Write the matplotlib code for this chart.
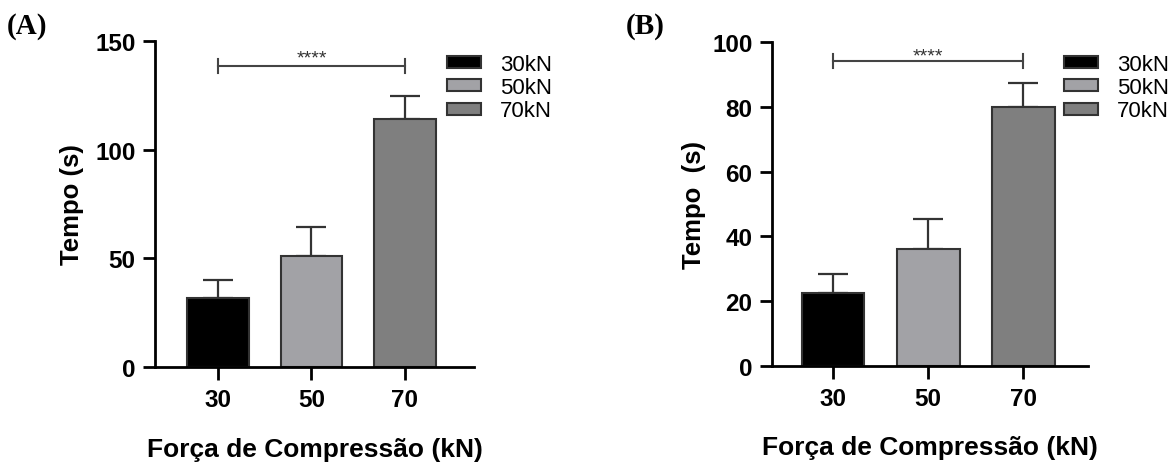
import numpy as np
import matplotlib.pyplot as plt
from matplotlib.patches import Patch

plt.rcParams['font.family'] = ['Liberation Sans', 'DejaVu Sans']

categories = ['30', '50', '70']
legend_labels = ['30kN', '50kN', '70kN']
colors = ['#000000', '#a2a2a6', '#7f7f7f']

tempo_a = [31.8, 51, 114]
err_a = [8.2, 13.4, 10.5]
tempo_b = [22.5, 36, 80]
err_b = [5.8, 9.5, 7.3]

W, H = 1171, 464
fig = plt.figure(figsize=(W / 100, H / 100), dpi=100)


def panel(box, xlim, vals, errs, ymax, yticks, bracket_y, tick_h, star_y, letter, letter_x,
          ylabel, ylabel_x, legend_xy):
    left, right, top, bottom = box
    ax = fig.add_axes([left / W, 1 - bottom / H, (right - left) / W, (bottom - top) / H])
    x = np.arange(len(categories))
    ax.bar(x, vals, width=0.66, color=colors, edgecolor='#333333', linewidth=1.5, zorder=2)
    ax.errorbar(x, vals, yerr=[[0] * len(vals), errs], fmt='none', ecolor='#333333',
                elinewidth=1.6, capsize=11, capthick=1.6, zorder=1)
    ax.set_xlim(*xlim)
    ax.set_ylim(0, ymax)
    ax.set_xticks(x)
    ax.set_xticklabels(categories)
    ax.set_yticks(yticks)
    for s in ['top', 'right']:
        ax.spines[s].set_visible(False)
    for s in ['left', 'bottom']:
        ax.spines[s].set_linewidth(2.0)
    ax.tick_params(axis='both', width=2.0, length=9, labelsize=17.5, pad=5)
    ax.tick_params(axis='x', pad=6)
    for lab in ax.get_xticklabels() + ax.get_yticklabels():
        lab.set_fontweight('bold')
    ax.set_ylabel(ylabel, fontsize=18.5, fontweight='bold')
    ax.yaxis.set_label_coords(ylabel_x, 0.5)
    ax.set_xlabel('Força de Compressão (kN)', fontsize=19, fontweight='bold')
    ax.xaxis.set_label_coords(0.5, -0.25)
    ax.xaxis.label.set_va('center')

    # significance bracket
    kw = dict(color='#444444', lw=1.5, clip_on=False)
    ax.plot([0, 2], [bracket_y, bracket_y], **kw)
    ax.plot([0, 0], [bracket_y - tick_h, bracket_y + tick_h], **kw)
    ax.plot([2, 2], [bracket_y - tick_h, bracket_y + tick_h], **kw)
    ax.text(1, star_y, '****', ha='center', va='baseline', fontsize=14, color='#333333')

    handles = [Patch(facecolor=c, edgecolor='#333333', linewidth=1.5) for c in colors]
    fig.legend(handles, legend_labels, loc='upper left',
               bbox_to_anchor=(legend_xy[0] / W, 1 - legend_xy[1] / H), frameon=False,
               fontsize=16, handlelength=1.55, handleheight=0.45, handletextpad=0.85,
               labelspacing=0.1, borderaxespad=0, borderpad=0)

    fig.text(letter_x / W, 1 - 26 / H, letter, fontsize=21, fontweight='bold',
             family='Liberation Serif', va='center', ha='left')
    return ax


panel((155, 474, 42, 368), (-0.674, 2.74), tempo_a, err_a, 150, [0, 50, 100, 150],
      138.5, 3.2, 140, '(A)', 7, 'Tempo (s)', -0.223, (447, 55))
panel((772, 1088, 43, 367), (-0.64, 2.68), tempo_b, err_b, 100, [0, 20, 40, 60, 80, 100],
      94.1, 2.2, 94.4, '(B)', 626, 'Tempo  (s)', -0.209, (1064, 55))

fig.savefig('out.png', dpi=100)
